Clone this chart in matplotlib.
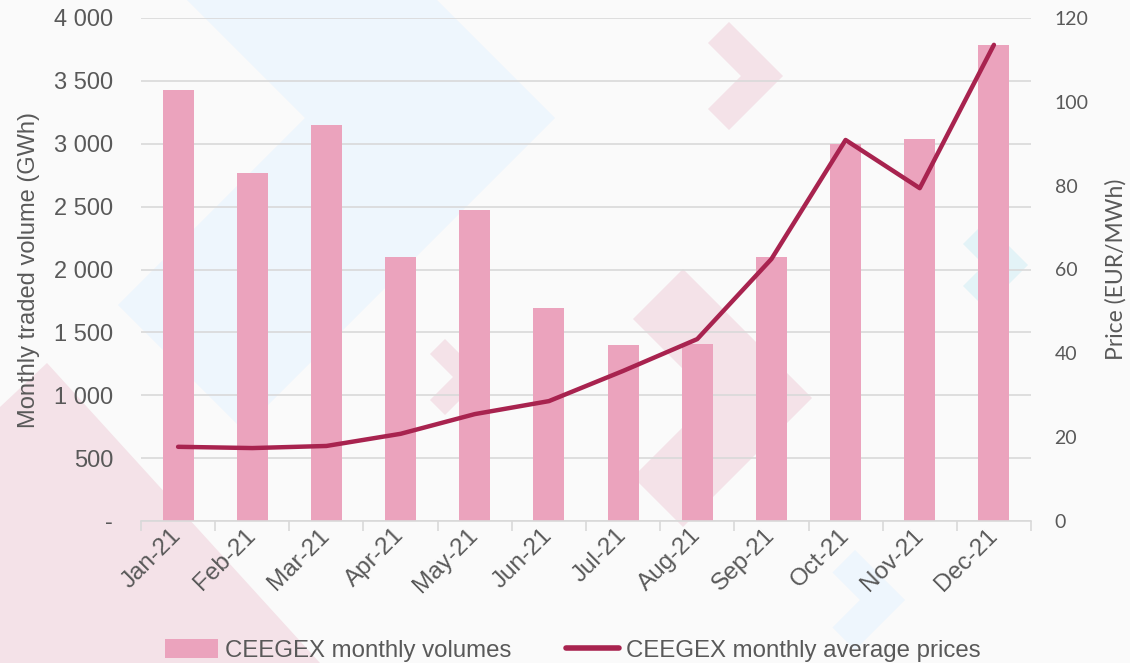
import numpy as np
import matplotlib.pyplot as plt
from matplotlib.patches import Polygon, Patch
from matplotlib.lines import Line2D

months = ['Jan-21', 'Feb-21', 'Mar-21', 'Apr-21', 'May-21', 'Jun-21',
          'Jul-21', 'Aug-21', 'Sep-21', 'Oct-21', 'Nov-21', 'Dec-21']
volumes = [3430, 2767, 3149, 2099, 2473, 1694, 1400, 1408, 2099, 2998, 3038, 3785]
prices = [17.7, 17.4, 17.9, 20.8, 25.5, 28.6, 35.8, 43.4, 62.5, 90.9, 79.4, 113.6]

bar_col = '#EBA3BD'
line_col = '#A8234F'
txt_col = '#595959'

W, H = 1130, 663

plt.rcParams['font.family'] = ['Liberation Sans', 'DejaVu Sans']

fig = plt.figure(figsize=(W / 100, H / 100), dpi=100)
fig.patch.set_facecolor('#FAFAFA')


def shape(pts, color):
    # watermark polygon, given in pixels from the top-left corner
    pts = [(px / W, 1 - py / H) for px, py in pts]
    fig.add_artist(Polygon(pts, closed=True, transform=fig.transFigure,
                           facecolor=color, edgecolor='none', zorder=0))


def chevron(tx, ty, h, w, color):
    shape([(tx - h, ty - h), (tx, ty), (tx - h, ty + h),
           (tx - h - w / 2, ty + h - w / 2), (tx - w, ty),
           (tx - h - w / 2, ty - h + w / 2)], color)


chevron(555, 118, 312, 250, '#EEF6FD')
chevron(483, 377, 38, 30, '#F4E2E8')
chevron(812, 398, 129, 100, '#F4E2E8')
chevron(783, 76, 54, 42, '#F4E2E8')
chevron(1028, 265, 43, 44, '#E3F3F7')
chevron(905, 600, 50, 45, '#EEF6FD')
shape([(0, 407), (47, 363), (320, 663), (0, 663)], '#F4E2E8')

ax = fig.add_axes([141 / W, 1 - 521 / H, 890 / W, 503 / H])
ax.patch.set_alpha(0)
x = np.arange(len(months))
ax.bar(x, volumes, width=0.42, color=bar_col, zorder=2)
ax.set_ylim(0, 4000)
ax.set_xlim(-0.5, len(months) - 0.5)
ax.set_yticks(np.arange(0, 4001, 500))
ax.set_yticklabels(['-'] + ['{:,}'.format(v).replace(',', ' ') for v in range(500, 4001, 500)])
ax.grid(axis='y', color='#D9D9D9', linewidth=1.2, zorder=1)
ax.set_axisbelow(True)
for s in ['top', 'right', 'left']:
    ax.spines[s].set_visible(False)
ax.spines['bottom'].set_color('#D9D9D9')
ax.spines['bottom'].set_linewidth(1.2)
ax.set_xticks(np.arange(-0.5, len(months), 1), minor=False)
ax.set_xticklabels([])
ax.set_xticks(x, minor=True)
ax.set_xticklabels(months, minor=True, rotation=45, ha='right', va='center',
                   rotation_mode='anchor', fontsize=17.5, color=txt_col)
ax.tick_params(axis='x', which='major', length=7, color='#D9D9D9', width=1.2)
ax.tick_params(axis='x', which='minor', length=0, pad=8)
ax.tick_params(axis='y', length=0, labelsize=17, labelcolor=txt_col, pad=20)
ax.set_ylabel('Monthly traded volume (GWh)', fontsize=17, color=txt_col, labelpad=10)

ax2 = ax.twinx()
ax2.plot(x, prices, color=line_col, linewidth=3.2, solid_capstyle='round', zorder=3)
ax2.set_ylim(0, 120)
ax2.set_yticks(np.arange(0, 121, 20))
for s in ax2.spines.values():
    s.set_visible(False)
ax2.tick_params(axis='y', length=0, pad=17, labelsize=14, labelcolor=txt_col)
for lbl in ax2.get_yticklabels():
    lbl.set_family(['Lato', 'DejaVu Sans'])
ax2.set_ylabel('Price (EUR/MWh)', fontsize=16.5, color=txt_col, labelpad=12,
               family=['Lato', 'DejaVu Sans'])

handles = [Patch(facecolor=bar_col, edgecolor='none'),
           Line2D([0], [0], color=line_col, linewidth=4, solid_capstyle='round')]
fig.legend(handles, ['CEEGEX monthly volumes', 'CEEGEX monthly average prices'],
           loc='center', bbox_to_anchor=(0.507, 0.019), ncol=2, frameon=False,
           fontsize=17.3, labelcolor=txt_col, handlelength=2.2, handleheight=0.8,
           columnspacing=2.3, handletextpad=0.3, borderpad=0, borderaxespad=0)

fig.savefig('out.png', dpi=100, facecolor=fig.get_facecolor())
